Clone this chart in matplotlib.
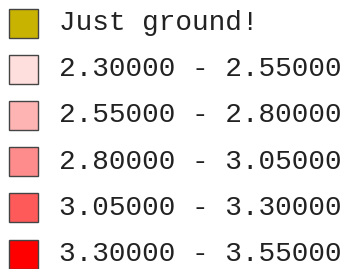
import matplotlib
matplotlib.use("Agg")
from matplotlib import pyplot as plt
from matplotlib.patches import Rectangle

labels = ['Just ground!', '2.30000 - 2.55000', '2.55000 - 2.80000',
          '2.80000 - 3.05000', '3.05000 - 3.30000', '3.30000 - 3.55000']
colors = ['#c8b400', '#ffdede', '#ffb4b4', '#ff8c8c', '#ff5a5a', '#ff0000']

fig = plt.figure(figsize=(3.48, 2.69), dpi=100)
ax = fig.add_axes([0, 0, 1, 1])
ax.set_xlim(0, 348)
ax.set_ylim(269, 0)
ax.axis('off')

for i, (lab, col) in enumerate(zip(labels, colors)):
    yc = 23 + 46.2 * i
    ax.add_patch(Rectangle((9, yc - 14.5), 29, 29, facecolor=col,
                           edgecolor='#444444', linewidth=1.0))
    ax.text(59, yc, lab, fontsize=20, family='Liberation Mono',
            color='#222222', va='center', ha='left')

fig.savefig('out.png', dpi=100)
